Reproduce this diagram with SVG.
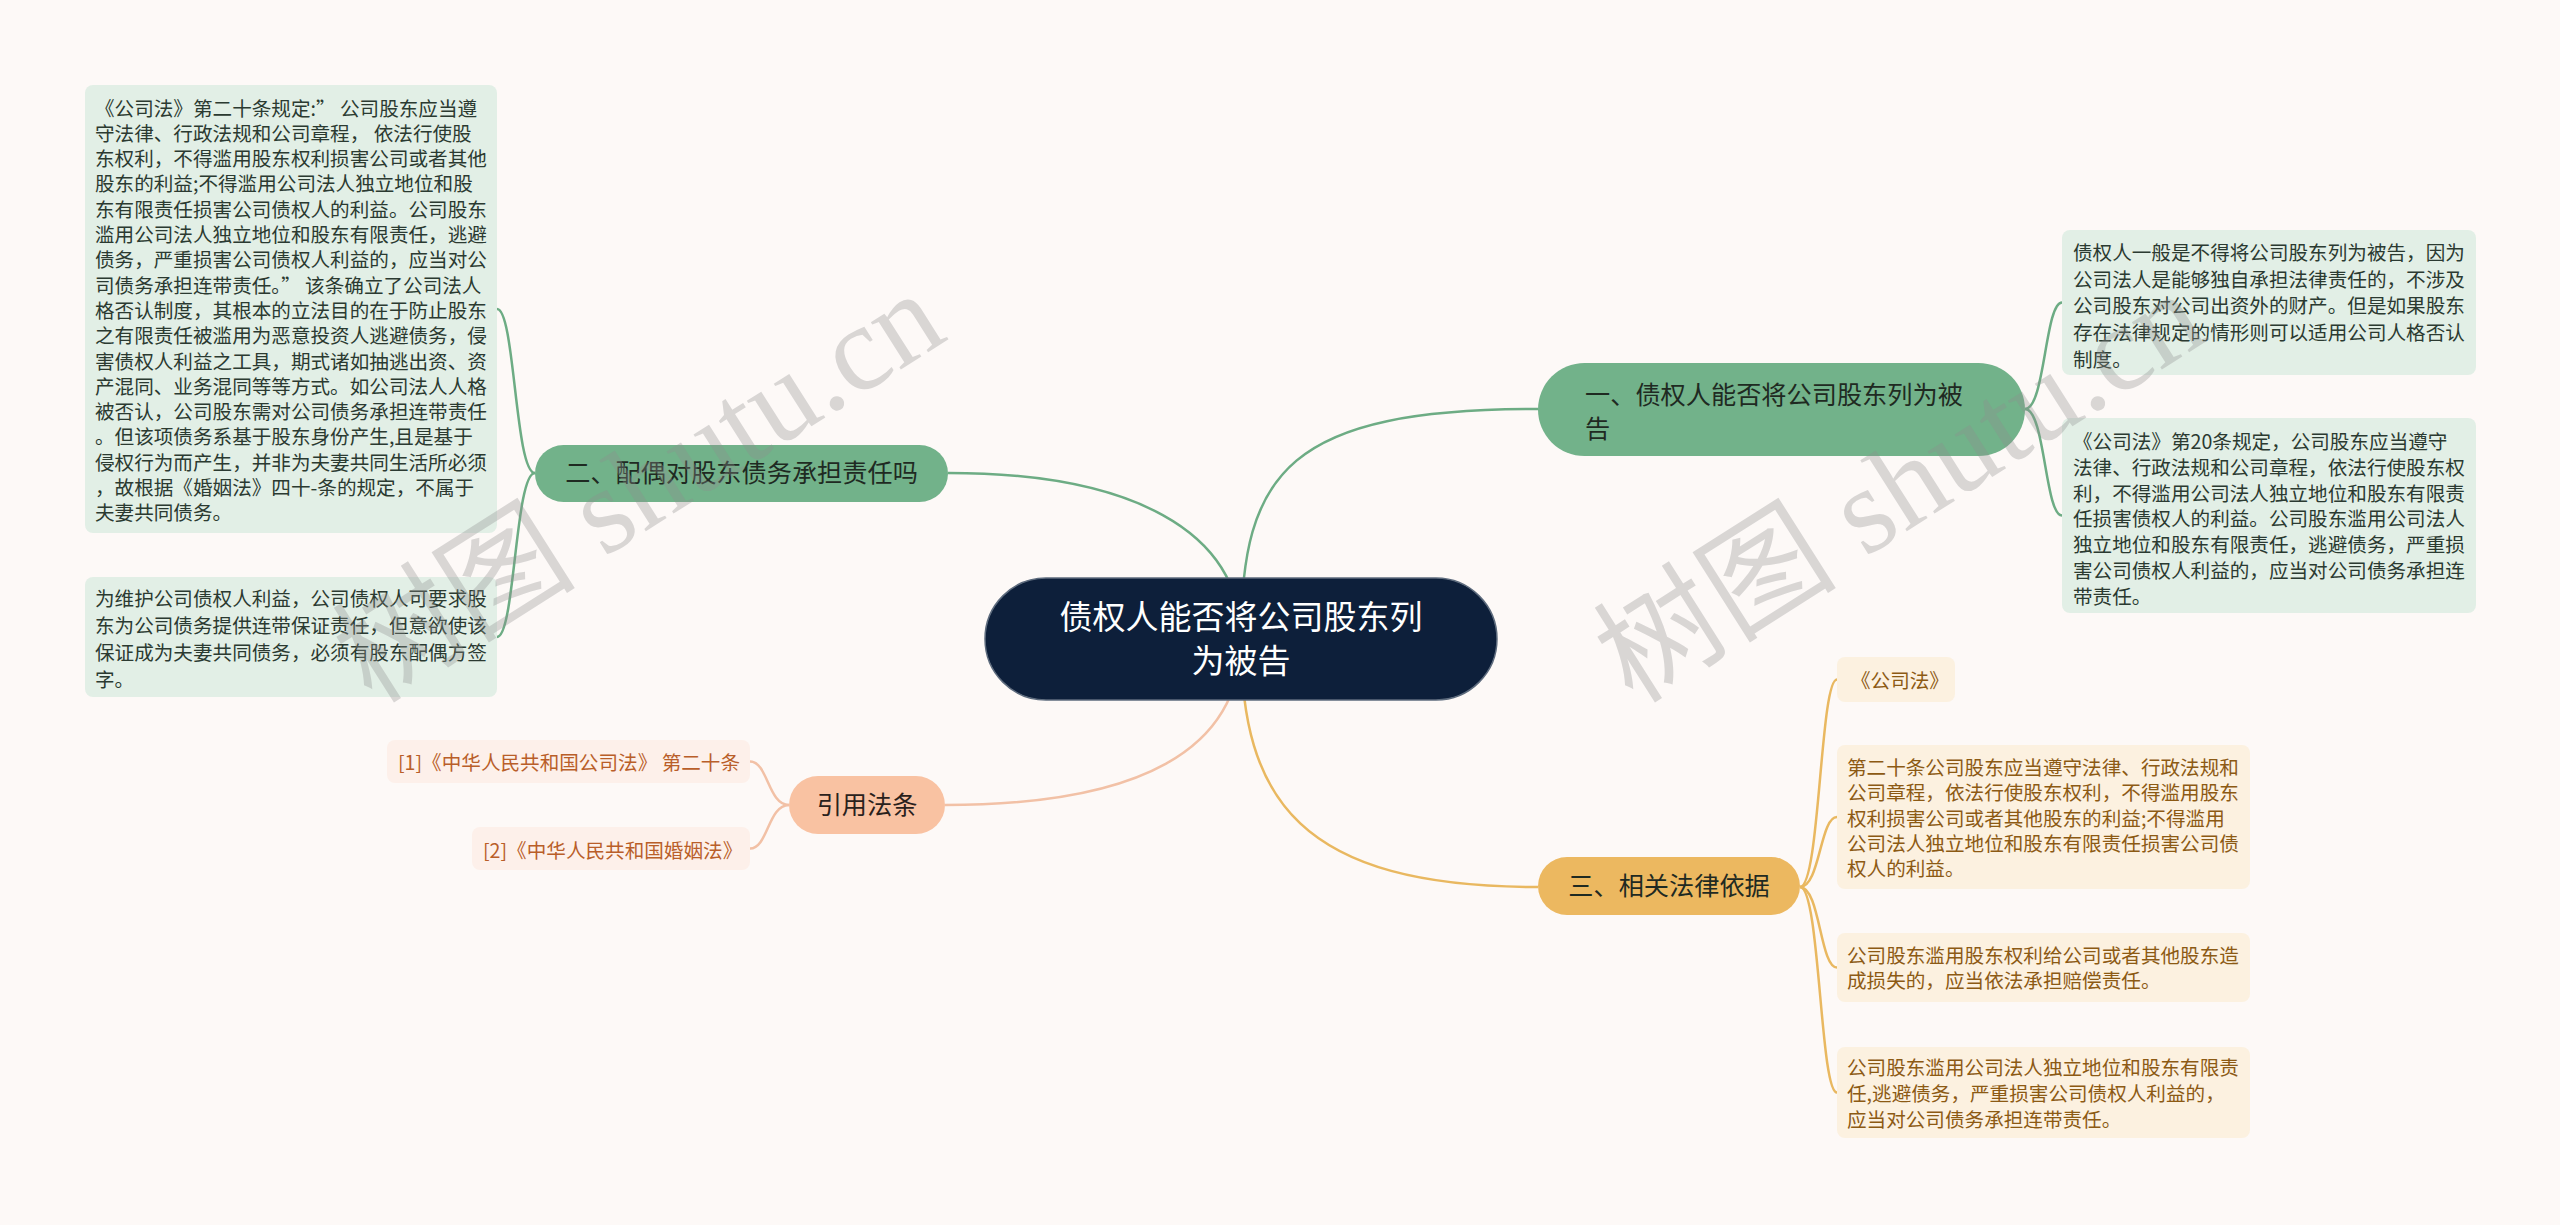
<svg xmlns="http://www.w3.org/2000/svg" width="2560" height="1225" viewBox="0 0 2560 1225">
<style>
.cjk{font-family:"Noto Sans CJK SC","Noto Sans",sans-serif}
.g-line{fill:none;stroke:#6dac84;stroke-width:2.5}
.o-line{fill:none;stroke:#e9b860;stroke-width:2.5}
.p-line{fill:none;stroke:#f2c1a6;stroke-width:2.5}
.g-box{fill:#e2efe6}
.o-box{fill:#fcf1e0}
.p-box{fill:#fdf0ea}
.g-txt{fill:#2b3a31;font-size:19.6px}
.o-txt{fill:#8c5a14;font-size:19.6px}
.p-txt{fill:#b95e29;font-size:19.6px}
.br-txt{fill:#1f2a22;font-size:25.2px}
.wm{font-family:"Liberation Serif","Noto Sans CJK SC",serif;font-size:122px;fill:#8e8e8e;opacity:0.32}
</style>
<rect width="2560" height="1225" fill="#fdf9f7"/>
<g id="connectors">
<path class="g-line" d="M1241 639 C1241 470 1290 409 1538 409"/>
<path class="g-line" d="M1241 639 C1241 530 1130 473 948 473"/>
<path class="p-line" d="M1241 639 C1241 750 1140 805 945 805"/>
<path class="o-line" d="M1241 639 C1241 800 1300 887 1538 887"/>
<path class="g-line" d="M2025 409 C2045 409 2045 302.5 2062 302.5"/>
<path class="g-line" d="M2025 409 C2045 409 2045 515.5 2062 515.5"/>
<path class="g-line" d="M535 473 C515 473 515 309 497 309"/>
<path class="g-line" d="M535 473 C515 473 515 637 497 637"/>
<path class="p-line" d="M789 805 C768 805 768 761.5 750 761.5"/>
<path class="p-line" d="M789 805 C768 805 768 848.5 750 848.5"/>
<path class="o-line" d="M1800 887 C1820 887 1820 679.5 1837 679.5"/>
<path class="o-line" d="M1800 887 C1820 887 1820 817 1837 817"/>
<path class="o-line" d="M1800 887 C1820 887 1820 967.5 1837 967.5"/>
<path class="o-line" d="M1800 887 C1820 887 1820 1092.5 1837 1092.5"/>
</g>
<g id="root">
<rect x="985" y="578" width="512" height="122" rx="61" fill="#0d1f3a" stroke="#5d6b7d" stroke-width="1.5"/>
<text class="cjk" x="1241" y="629" font-size="33" fill="#ffffff" text-anchor="middle">债权人能否将公司股东列</text>
<text class="cjk" x="1241" y="673" font-size="33" fill="#ffffff" text-anchor="middle">为被告</text>
</g>
<g id="branch1">
<rect x="1538" y="363" width="487" height="93" rx="46.5" fill="#72b28a"/>
<text class="cjk br-txt" x="1585" y="404">一、债权人能否将公司股东列为被</text>
<text class="cjk br-txt" x="1585" y="438">告</text>
</g>
<g id="b1-note1">
<rect class="g-box" x="2062" y="230" width="414" height="145" rx="8"/>
<text class="cjk g-txt" x="2073" y="260">债权人一般是不得将公司股东列为被告，因为</text>
<text class="cjk g-txt" x="2073" y="286.7">公司法人是能够独自承担法律责任的，不涉及</text>
<text class="cjk g-txt" x="2073" y="313.4">公司股东对公司出资外的财产。但是如果股东</text>
<text class="cjk g-txt" x="2073" y="340.1">存在法律规定的情形则可以适用公司人格否认</text>
<text class="cjk g-txt" x="2073" y="366.8">制度。</text>
</g>
<g id="b1-note2">
<rect class="g-box" x="2062" y="418" width="414" height="195" rx="8"/>
<text class="cjk g-txt" x="2073" y="449">《公司法》第20条规定，公司股东应当遵守</text>
<text class="cjk g-txt" x="2073" y="474.8">法律、行政法规和公司章程，依法行使股东权</text>
<text class="cjk g-txt" x="2073" y="500.6">利，不得滥用公司法人独立地位和股东有限责</text>
<text class="cjk g-txt" x="2073" y="526.4">任损害债权人的利益。公司股东滥用公司法人</text>
<text class="cjk g-txt" x="2073" y="552.2">独立地位和股东有限责任，逃避债务，严重损</text>
<text class="cjk g-txt" x="2073" y="578">害公司债权人利益的，应当对公司债务承担连</text>
<text class="cjk g-txt" x="2073" y="603.8">带责任。</text>
</g>
<g id="branch2">
<rect x="535" y="445" width="413" height="57" rx="28.5" fill="#72b28a"/>
<text class="cjk br-txt" x="741.5" y="482" text-anchor="middle">二、配偶对股东债务承担责任吗</text>
</g>
<g id="b2-note1">
<rect class="g-box" x="85" y="85" width="412" height="448" rx="8"/>
<text class="cjk g-txt" x="95" y="115.5">《公司法》第二十条规定:” 公司股东应当遵</text>
<text class="cjk g-txt" x="95" y="140.8">守法律、行政法规和公司章程， 依法行使股</text>
<text class="cjk g-txt" x="95" y="166.1">东权利，不得滥用股东权利损害公司或者其他</text>
<text class="cjk g-txt" x="95" y="191.4">股东的利益;不得滥用公司法人独立地位和股</text>
<text class="cjk g-txt" x="95" y="216.7">东有限责任损害公司债权人的利益。公司股东</text>
<text class="cjk g-txt" x="95" y="242">滥用公司法人独立地位和股东有限责任，逃避</text>
<text class="cjk g-txt" x="95" y="267.3">债务，严重损害公司债权人利益的，应当对公</text>
<text class="cjk g-txt" x="95" y="292.6">司债务承担连带责任。” 该条确立了公司法人</text>
<text class="cjk g-txt" x="95" y="317.9">格否认制度，其根本的立法目的在于防止股东</text>
<text class="cjk g-txt" x="95" y="343.2">之有限责任被滥用为恶意投资人逃避债务，侵</text>
<text class="cjk g-txt" x="95" y="368.5">害债权人利益之工具，期式诸如抽逃出资、资</text>
<text class="cjk g-txt" x="95" y="393.8">产混同、业务混同等等方式。如公司法人人格</text>
<text class="cjk g-txt" x="95" y="419.1">被否认，公司股东需对公司债务承担连带责任</text>
<text class="cjk g-txt" x="95" y="444.4">。但该项债务系基于股东身份产生,且是基于</text>
<text class="cjk g-txt" x="95" y="469.7">侵权行为而产生，并非为夫妻共同生活所必须</text>
<text class="cjk g-txt" x="95" y="495">，故根据《婚姻法》四十-条的规定，不属于</text>
<text class="cjk g-txt" x="95" y="520.3">夫妻共同债务。</text>
</g>
<g id="b2-note2">
<rect class="g-box" x="85" y="577" width="412" height="120" rx="8"/>
<text class="cjk g-txt" x="95" y="605.5">为维护公司债权人利益，公司债权人可要求股</text>
<text class="cjk g-txt" x="95" y="632.5">东为公司债务提供连带保证责任，但意欲使该</text>
<text class="cjk g-txt" x="95" y="659.5">保证成为夫妻共同债务，必须有股东配偶方签</text>
<text class="cjk g-txt" x="95" y="686.5">字。</text>
</g>
<g id="refs">
<rect x="789" y="776" width="156" height="58" rx="29" fill="#f9c2a2"/>
<text class="cjk" x="867" y="814" font-size="25.2" fill="#2a211c" text-anchor="middle">引用法条</text>
</g>
<g id="ref1">
<rect class="p-box" x="387" y="740" width="363" height="43" rx="8"/>
<text class="cjk p-txt" x="398" y="770">[1]《中华人民共和国公司法》 第二十条</text>
</g>
<g id="ref2">
<rect class="p-box" x="472" y="827" width="278" height="43" rx="8"/>
<text class="cjk p-txt" x="483" y="858">[2]《中华人民共和国婚姻法》</text>
</g>
<g id="branch3">
<rect x="1538" y="857" width="262" height="58" rx="29" fill="#ecb860"/>
<text class="cjk br-txt" x="1669" y="895" text-anchor="middle">三、相关法律依据</text>
</g>
<g id="b3-note1">
<rect class="o-box" x="1837" y="657" width="118" height="45" rx="8"/>
<text class="cjk o-txt" x="1851" y="688">《公司法》</text>
</g>
<g id="b3-note2">
<rect class="o-box" x="1837" y="745" width="413" height="144" rx="8"/>
<text class="cjk o-txt" x="1847" y="775">第二十条公司股东应当遵守法律、行政法规和</text>
<text class="cjk o-txt" x="1847" y="800.3">公司章程，依法行使股东权利，不得滥用股东</text>
<text class="cjk o-txt" x="1847" y="825.6">权利损害公司或者其他股东的利益;不得滥用</text>
<text class="cjk o-txt" x="1847" y="850.9">公司法人独立地位和股东有限责任损害公司债</text>
<text class="cjk o-txt" x="1847" y="876.2">权人的利益。</text>
</g>
<g id="b3-note3">
<rect class="o-box" x="1837" y="933" width="413" height="69" rx="8"/>
<text class="cjk o-txt" x="1847" y="963">公司股东滥用股东权利给公司或者其他股东造</text>
<text class="cjk o-txt" x="1847" y="988">成损失的，应当依法承担赔偿责任。</text>
</g>
<g id="b3-note4">
<rect class="o-box" x="1837" y="1047" width="413" height="91" rx="8"/>
<text class="cjk o-txt" x="1847" y="1075">公司股东滥用公司法人独立地位和股东有限责</text>
<text class="cjk o-txt" x="1847" y="1100.8">任,逃避债务，严重损害公司债权人利益的，</text>
<text class="cjk o-txt" x="1847" y="1126.6">应当对公司债务承担连带责任。</text>
</g>
<g id="watermark">
<text class="wm" transform="translate(372 705) rotate(-32.4)">树图 shutu.cn</text>
<text class="wm" transform="translate(1633 705) rotate(-32.4)">树图 shutu.cn</text>
</g>
</svg>
